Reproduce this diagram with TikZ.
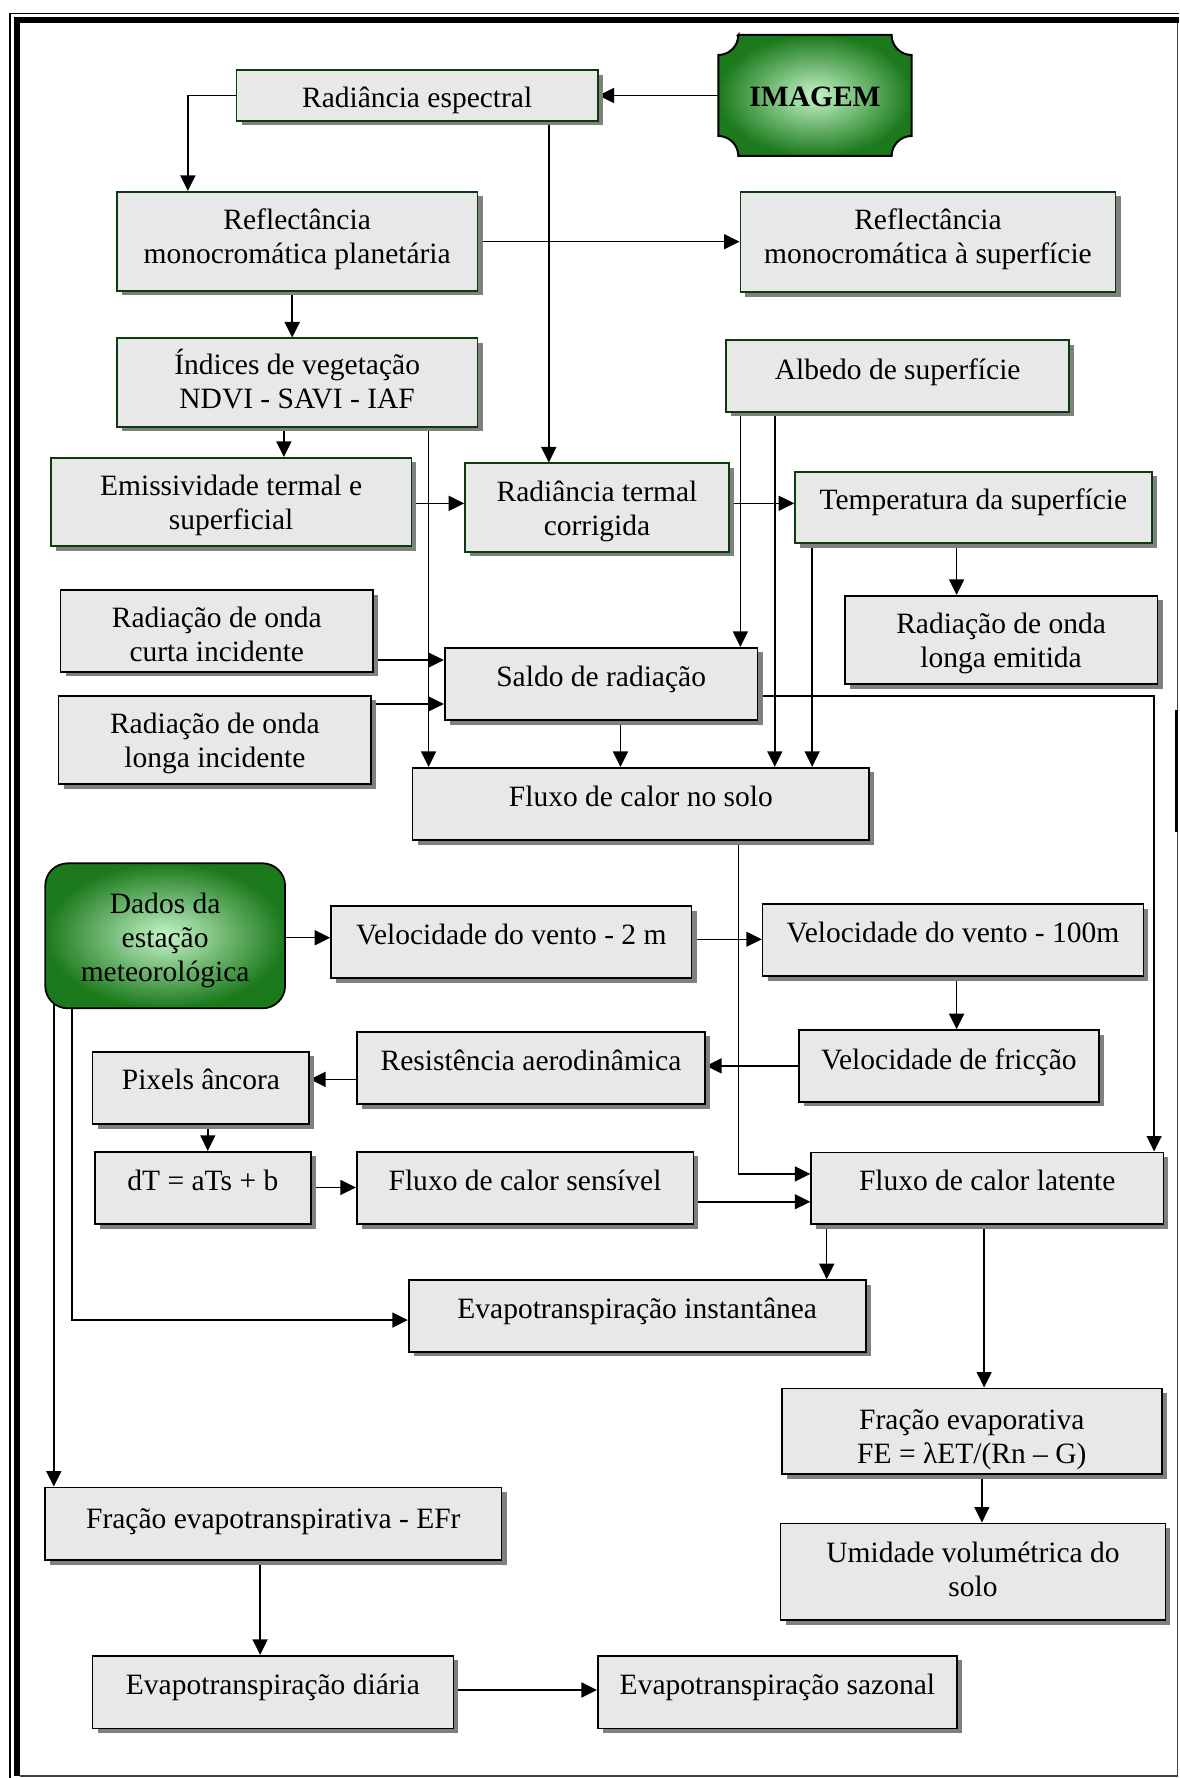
\documentclass[tikz,border=0pt]{standalone}
\usepackage{fontspec}
\setmainfont{Liberation Serif}
\usetikzlibrary{arrows.meta,calc,shadows,backgrounds}
\definecolor{boxgray}{HTML}{E8E8E8}
\definecolor{shadowgray}{HTML}{808080}
\definecolor{boxgreen}{HTML}{0A3D0A}
\definecolor{gdark}{HTML}{1C7A1C}
\definecolor{glight}{HTML}{C4F5C8}
\newcommand\mainfs{\fontsize{11.8pt}{13.6pt}\selectfont}
\newcommand\topst{\rule{0pt}{16pt}}
\newcommand\botst{\rule[-8.2pt]{0pt}{0pt}}
% #1 style, #2 name, #3 x1, #4 y1, #5 x2, #6 y2 (pixels, y downward), #7 text offset (px, down), #8 text
\newcommand\mkbox[8]{%
  \node[#1, minimum width={(#5-#3)*0.4pt}, minimum height={(#6-#4)*0.4pt}] (#2) at ({(#3+#5)/2},{-(#4+#6)/2}) {};
  \node[txt] (#2-t) at ({(#3+#5)/2},{-(#4+#6)/2-(#7)}) {\topst #8\botst};}
\begin{document}
\begin{tikzpicture}[x=0.4pt,y=0.4pt,
  base/.style={rectangle, fill=boxgray, line width=0.65pt, inner sep=0pt,
    general shadow={fill=shadowgray, shadow xshift=2pt, shadow yshift=-1.9pt}},
  gbox/.style={base, draw=boxgreen},
  kbox/.style={base, draw=black},
  txt/.style={align=center, font=\mainfs, inner sep=0pt},
  dbox/.style={rectangle, draw=black, line width=0.7pt, rounded corners=9pt, inner color=glight, outer color=gdark, inner sep=0pt},
  arr/.style={line width=0.6pt, -{Triangle[length=6.2pt,width=6pt]}},
  framethin/.style={line width=0.6pt},
  framethick/.style={line width=2.4pt},
]
\useasboundingbox (0,0) rectangle (1179,-1778);

% frame
\draw[framethin] (10,-1778) -- (10,-13.5) -- (1179,-13.5);
\draw[framethick] (16.5,-1776) -- (16.5,-20.5) -- (1179,-20.5);
\draw[line width=0.5pt, black!75] (1177.8,-23.5) -- (1177.8,-1776) -- (19.5,-1776);
\draw[line width=1pt] (1176.3,-710) -- (1176.3,-831.7);

% IMAGEM shape
\path[draw=black, line width=0.8pt, inner color=glight, outer color=gdark]
  (738.3,-35) -- (891.6,-35) arc[start angle=180, end angle=270, radius=8pt]
  -- (911.6,-136) arc[start angle=90, end angle=180, radius=8pt]
  -- (738.3,-156) arc[start angle=0, end angle=90, radius=8pt]
  -- (718.3,-55) arc[start angle=270, end angle=360, radius=8pt] -- cycle;
\node[txt, font=\mainfs\bfseries, minimum width={193.3*0.4pt}, minimum height={121*0.4pt}] (img) at (815,-96.5) {\topst IMAGEM\botst};

% boxes
\mkbox{gbox}{rade}{236.5}{70}{597.8}{120.7}{2}{Radiância espectral}
\mkbox{gbox}{refp}{116.7}{191.7}{477.6}{290.7}{-4.5}{Reflectância\\monocromática planetária}
\mkbox{gbox}{refs}{740.4}{191.7}{1115.5}{292.3}{-5}{Reflectância\\monocromática à superfície}
\mkbox{gbox}{indv}{116.7}{338.3}{477.6}{426.7}{-0.5}{Índices de vegetação\\NDVI - SAVI - IAF}
\mkbox{gbox}{albedo}{726.3}{340}{1069}{411.7}{-6.5}{Albedo de superfície}
\mkbox{gbox}{emis}{50.9}{457.7}{411.4}{546}{0.8}{Emissividade termal e\\superficial}
\mkbox{gbox}{radt}{465}{463.3}{729}{551.7}{1.3}{Radiância termal\\corrigida}
\mkbox{gbox}{temp}{795}{471.7}{1151.8}{543.3}{-7.5}{Temperatura da superfície}
\mkbox{kbox}{curta}{60.5}{590}{373.1}{671.7}{4}{Radiação de onda\\curta incidente}
\mkbox{kbox}{remit}{844.7}{595.7}{1157.5}{684}{0.8}{Radiação de onda\\longa emitida}
\mkbox{kbox}{saldo}{444.7}{647.7}{757.6}{720}{-7}{Saldo de radiação}
\mkbox{kbox}{longa}{58.6}{695.7}{371.2}{784}{1.2}{Radiação de onda\\longa incidente}
\mkbox{kbox}{fsolo}{412.6}{767.7}{869.2}{840}{-7}{Fluxo de calor no solo}
\mkbox{dbox}{dados}{45.2}{863.3}{285.1}{1008.3}{1.5}{Dados da\\estação\\meteorológica}
\mkbox{kbox}{v2}{331}{906}{691.5}{978.3}{-7}{Velocidade do vento - 2 m}
\mkbox{kbox}{v100}{762.6}{904}{1143.4}{976}{-7.3}{Velocidade do vento - 100m}
\mkbox{kbox}{resist}{356.7}{1031.7}{705.3}{1104}{-7.2}{Resistência aerodinâmica}
\mkbox{kbox}{fric}{798.9}{1030}{1098.7}{1101.7}{-6.6}{Velocidade de fricção}
\mkbox{kbox}{pix}{92.6}{1051.7}{309.2}{1124}{-8.6}{Pixels âncora}
\mkbox{kbox}{dT}{94.9}{1151.7}{310.8}{1224}{-7.2}{dT = aTs + b}
\mkbox{kbox}{fsens}{356.7}{1151.7}{693.4}{1224}{-7.3}{Fluxo de calor sensível}
\mkbox{kbox}{flat}{811.1}{1152.3}{1163.3}{1224}{-7.3}{Fluxo de calor latente}
\mkbox{kbox}{einst}{408.7}{1280}{865.7}{1351.7}{-7.6}{Evapotranspiração instantânea}
\mkbox{kbox}{fevap}{782}{1388.3}{1161.7}{1474}{5.5}{Fração evaporativa\\FE = λET/(Rn – G)}
\mkbox{kbox}{efr}{45.1}{1487.3}{501.5}{1560}{-5.4}{Fração evapotranspirativa - EFr}
\mkbox{kbox}{umid}{780.5}{1523.3}{1165.4}{1620}{-1.7}{Umidade volumétrica do\\solo}
\mkbox{kbox}{ediar}{92.5}{1655.7}{453.4}{1728.3}{-7}{Evapotranspiração diária}
\mkbox{kbox}{esaz}{597.7}{1655.7}{957.1}{1728.3}{-7}{Evapotranspiração sazonal}

% connectors
\begin{pgfonlayer}{background}
\draw[arr] ($(img.west)+(0,1)$) coordinate (k1) -- (k1 -| rade.east);
\draw[arr] (rade.west) -| ($(refp.north west)+(72,0)$);
\draw[arr] ($(rade.south west)+(313.1,0)$) coordinate (k3) -- (k3 |- radt.north);
\draw[arr] ($(refp.east)+(0,-0.5)$) coordinate (k4) -- (k4 -| refs.west);
\draw[arr] ($(refp.south west)+(176.3,0)$) coordinate (k5) -- (k5 |- indv.north);
\draw[arr] ($(indv.south west)+(168,0)$) coordinate (k6) -- (k6 |- emis.north);
\draw[arr] ($(emis.east)+(0,-1.5)$) coordinate (k7) -- (k7 -| radt.west);
\draw[arr] ($(indv.south west)+(312.7,0)$) coordinate (k8) -- (k8 |- fsolo.north);
\draw[arr] ($(albedo.south west)+(14.9,0)$) coordinate (k9) -- (k9 |- saldo.north);
\draw[arr] ($(albedo.south west)+(49.3,0)$) coordinate (k10) -- (k10 |- fsolo.north);
\draw[arr] ($(radt.east)+(0,4.2)$) coordinate (k11) -- (k11 -| temp.west);
\draw[arr] ($(temp.south west)+(18,0)$) coordinate (k12) -- (k12 |- fsolo.north);
\draw[arr] ($(temp.south west)+(162.4,0)$) coordinate (k13) -- (k13 |- remit.north);
\draw[arr] ($(curta.east)+(0,-29.2)$) coordinate (k14) -- (k14 -| saldo.west);
\draw[arr] ($(longa.east)+(0,35.9)$) coordinate (k15) -- (k15 -| saldo.west);
\draw[arr] ($(saldo.south west)+(176.6,0)$) coordinate (k16) -- (k16 |- fsolo.north);
\draw[arr] ($(saldo.east)+(0,-12.2)$) -| ($(flat.north west)+(343.8,0)$);
\draw[arr] ($(fsolo.south west)+(326.7,0)$) |- ($(flat.west)+(0,14.2)$);
\draw[arr] ($(fsens.east)+(0,-13.9)$) coordinate (k19) -- (k19 -| flat.west);
\draw[arr] ($(dados.east)+(0,-1.9)$) coordinate (k20) -- (k20 -| v2.west);
\draw[arr] ($(v2.east)+(0,2.9)$) coordinate (k21) -- (k21 -| v100.west);
\draw[arr] ($(v100.south west)+(194.8,0)$) coordinate (k22) -- (k22 |- fric.north);
\draw[arr] (fric.west) -- (fric.west -| resist.east);
\draw[arr] ($(resist.west)+(0,-11.5)$) coordinate (k24) -- (k24 -| pix.east);
\draw[arr] ($(pix.south west)+(116,0)$) coordinate (k25) -- (k25 |- dT.north);
\draw[arr] ($(dT.east)+(0,0.4)$) coordinate (k26) -- (k26 -| fsens.west);
\draw[arr] ($(flat.south west)+(16.4,0)$) coordinate (k27) -- (k27 |- einst.north);
\draw[arr] ($(dados.south west)+(27.5,0)$) |- ($(einst.west)+(0,-4.2)$);
\draw[arr] ($(dados.south west)+(9.5,8)$) coordinate (k29) -- (k29 |- efr.north);
\draw[arr] ($(flat.south west)+(173.8,0)$) coordinate (k30) -- (k30 |- fevap.north);
\draw[arr] ($(fevap.south west)+(200.7,0)$) coordinate (k31) -- (k31 |- umid.north);
\draw[arr] ($(efr.south west)+(215.8,0)$) coordinate (k32) -- (k32 |- ediar.north);
\draw[arr] ($(ediar.east)+(0,2)$) coordinate (k33) -- (k33 -| esaz.west);
\end{pgfonlayer}
\end{tikzpicture}
\end{document}
